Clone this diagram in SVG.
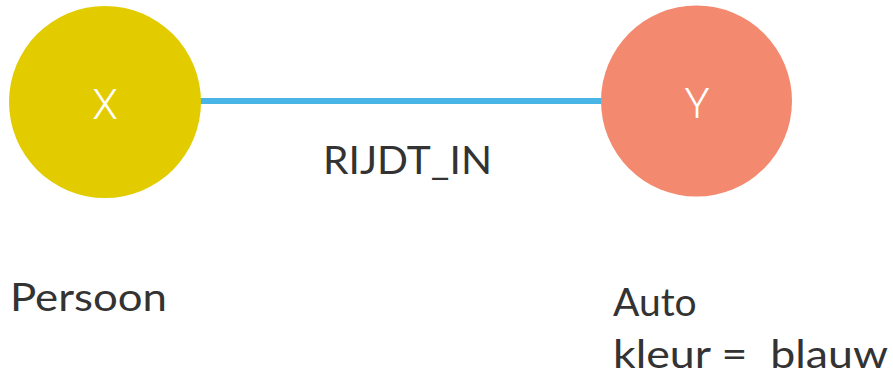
<svg xmlns="http://www.w3.org/2000/svg" width="893" height="377" viewBox="0 0 893 377">
<style>
.lbl{font-family:Lato,"Open Sans","Liberation Sans",sans-serif;font-size:39px;fill:#333333;white-space:pre}
.nl{font-family:Roboto,"Liberation Sans",sans-serif;font-size:42px;fill:#ffffff;text-anchor:middle;font-weight:300}
</style>
<defs>
<filter id="sh" x="-5%" y="-100%" width="110%" height="400%">
<feDropShadow dx="1" dy="3" stdDeviation="2" flood-color="#000" flood-opacity="0.4"/>
</filter>
</defs>
<rect width="893" height="377" fill="#fff"/>
<g id="connectors">
<line x1="198" y1="101.3" x2="603" y2="100" stroke="#48B4E6" stroke-width="8" filter="url(#sh)"/>
<text class="lbl" x="323" y="174" textLength="169" lengthAdjust="spacingAndGlyphs">RIJDT_IN</text>
</g>
<g id="node-x">
<circle cx="105" cy="102" r="96" fill="#E2CC00"/>
<text class="nl" x="105" y="119">X</text>
<text class="lbl" x="10" y="311" textLength="157" lengthAdjust="spacingAndGlyphs">Persoon</text>
</g>
<g id="node-y">
<circle cx="696.5" cy="101" r="95.5" fill="#F38A6F"/>
<text class="nl" x="697" y="118">Y</text>
<text class="lbl" x="613" y="316">Auto</text>
<text class="lbl" x="613" y="368" textLength="275" lengthAdjust="spacingAndGlyphs">kleur =  blauw</text>
</g>
</svg>
